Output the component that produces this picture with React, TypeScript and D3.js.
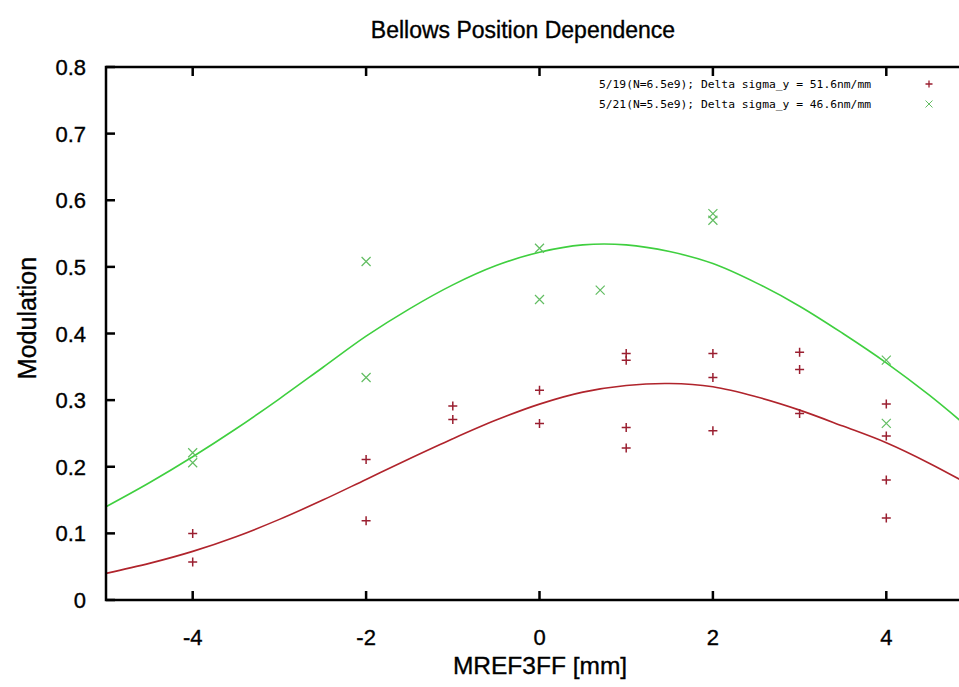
import React, { useEffect, useRef } from 'react'
import * as d3 from 'd3'

// tick labels
const xTicks = [-4, -2, 0, 2, 4]
const yTicks = [0, 0.1, 0.2, 0.3, 0.4, 0.5, 0.6, 0.7, 0.8]

// 5/19 measurements (red +)
const may19X = [-4, -4, -2, -2, -1, -1, 0, 0, 1, 1, 1, 1, 2, 2, 2, 3, 3, 3, 4, 4, 4, 4]
const may19Y = [0.100, 0.057, 0.211, 0.119, 0.291, 0.271, 0.315, 0.265, 0.370, 0.360, 0.259, 0.228,
    0.370, 0.334, 0.254, 0.372, 0.346, 0.280, 0.294, 0.246, 0.180, 0.123]

// 5/21 measurements (green x)
const may21X = [-4, -4, -2, -2, 0, 0, 0.7, 2, 2, 4, 4]
const may21Y = [0.221, 0.206, 0.508, 0.334, 0.528, 0.451, 0.465, 0.580, 0.570, 0.360, 0.265]

// fit curves
const fitX = [-5, -4.5, -4, -3.5, -3, -2.5, -2, -1.5, -1, -0.5, 0, 0.5, 1, 1.5, 2, 2.5, 3, 3.5, 4, 4.5, 5]
const fit19 = [0.040, 0.055, 0.073, 0.095, 0.121, 0.150, 0.181, 0.212, 0.242, 0.270, 0.294, 0.312,
    0.322, 0.325, 0.320, 0.305, 0.285, 0.261, 0.236, 0.205, 0.170]
const fit21 = [0.140, 0.176, 0.215, 0.257, 0.302, 0.349, 0.396, 0.437, 0.473, 0.502, 0.522, 0.533,
    0.533, 0.523, 0.505, 0.476, 0.441, 0.400, 0.356, 0.307, 0.253]

const legend19 = '5/19(N=6.5e9); Delta sigma_y = 51.6nm/mm'
const legend21 = '5/21(N=5.5e9); Delta sigma_y = 46.6nm/mm'

const red = '#b0242c'
const redPt = '#9a1f30'
const green = '#3fcf3f'
const greenPt = '#62bd62'

function BellowsChart() {
    const ref = useRef<SVGSVGElement>(null)

    useEffect(() => {
        const width = 959
        const height = 687
        const margin = { left: 106, top: 67, bottom: 600 }

        const svg = d3.select(ref.current)
        svg.selectAll('*').remove()

        svg.append('rect').attr('width', width).attr('height', height).attr('fill', '#fff')

        const x = d3.scaleLinear().domain([-5, 5]).range([margin.left, 973])
        const y = d3.scaleLinear().domain([0, 0.8]).range([margin.bottom, margin.top])

        const font = 'Liberation Sans, Arial, sans-serif'
        // the original text is rendered slightly heavy
        const heavy = (sel: any) => sel.attr('stroke', '#000').attr('stroke-width', 0.35)

        // title
        svg.append('text')
            .attr('x', 523).attr('y', 38)
            .attr('text-anchor', 'middle')
            .attr('font-family', font).attr('font-size', 23)
            .call(heavy)
            .text('Bellows Position Dependence')

        // axis labels
        svg.append('text')
            .attr('x', 540).attr('y', 674)
            .attr('text-anchor', 'middle')
            .attr('font-family', font).attr('font-size', 24.5)
            .call(heavy)
            .text('MREF3FF [mm]')

        svg.append('text')
            .attr('transform', `translate(36,318) rotate(-90)`)
            .attr('text-anchor', 'middle')
            .attr('font-family', font).attr('font-size', 25)
            .call(heavy)
            .text('Modulation')

        // curves
        const line = d3.line<number>()
            .x((d, i) => x(fitX[i]))
            .y(d => y(d))
            .curve(d3.curveCatmullRom)

        svg.append('path').datum(fit21)
            .attr('d', line).attr('fill', 'none')
            .attr('stroke', green).attr('stroke-width', 1.6)

        svg.append('path').datum(fit19)
            .attr('d', line).attr('fill', 'none')
            .attr('stroke', red).attr('stroke-width', 1.6)

        // points
        const s = 4.5
        const plus = (cx: number, cy: number) => `M${cx - s},${cy}H${cx + s}M${cx},${cy - s}V${cy + s}`
        const cross = (cx: number, cy: number) =>
            `M${cx - s},${cy - s}L${cx + s},${cy + s}M${cx - s},${cy + s}L${cx + s},${cy - s}`

        svg.append('g').selectAll('path')
            .data(may19X.map((v, i) => [v, may19Y[i]]))
            .join('path')
            .attr('d', d => plus(x(d[0]), y(d[1])))
            .attr('stroke', redPt).attr('stroke-width', 1.5)

        svg.append('g').selectAll('path')
            .data(may21X.map((v, i) => [v, may21Y[i]]))
            .join('path')
            .attr('d', d => cross(x(d[0]), y(d[1])))
            .attr('stroke', greenPt).attr('stroke-width', 1.2)

        // frame + ticks
        const frame = svg.append('g').attr('stroke', '#000').attr('stroke-width', 2.5).attr('fill', 'none')
        frame.append('path')
            .attr('d', `M${width + 5},${margin.top}H${margin.left}V${margin.bottom}H${width + 5}`)

        const tk = 9
        frame.selectAll('.ytick')
            .data(yTicks)
            .join('path')
            .attr('class', 'ytick')
            .attr('d', d => `M${margin.left},${y(d)}h${tk}`)

        frame.selectAll('.xtick')
            .data(xTicks)
            .join('path')
            .attr('class', 'xtick')
            .attr('d', d => `M${x(d)},${margin.bottom}v${-tk}M${x(d)},${margin.top}v${tk}`)

        svg.append('g').selectAll('text')
            .data(yTicks)
            .join('text')
            .attr('x', 86).attr('y', d => y(d) + 8)
            .attr('text-anchor', 'end')
            .attr('font-family', font).attr('font-size', 22)
            .call(heavy)
            .text(d => d === 0 ? '0' : d.toFixed(1))

        svg.append('g').selectAll('text')
            .data(xTicks)
            .join('text')
            .attr('x', d => x(d)).attr('y', 645)
            .attr('text-anchor', 'middle')
            .attr('font-family', font).attr('font-size', 22)
            .call(heavy)
            .text(d => d)

        // legend
        const lg = svg.append('g').attr('font-family', 'DejaVu Sans Mono, monospace').attr('font-size', 11.3)
        lg.append('text').attr('x', 871).attr('y', 88).attr('text-anchor', 'end').text(legend19)
        lg.append('text').attr('x', 871).attr('y', 108).attr('text-anchor', 'end').text(legend21)
        const ls = 3.5
        lg.append('path')
            .attr('d', `M${929 - ls},84H${929 + ls}M929,${84 - ls}V${84 + ls}`)
            .attr('stroke', redPt).attr('stroke-width', 1.3)
        lg.append('path')
            .attr('d', `M${929 - ls},${104 - ls}L${929 + ls},${104 + ls}M${929 - ls},${104 + ls}L${929 + ls},${104 - ls}`)
            .attr('stroke', greenPt).attr('stroke-width', 1)
    }, [])

    return <svg ref={ref} width={959} height={687} style={{ position: 'absolute', left: 0, top: 0, display: 'block' }} />
}

export default function App() {
    return <BellowsChart />
}
